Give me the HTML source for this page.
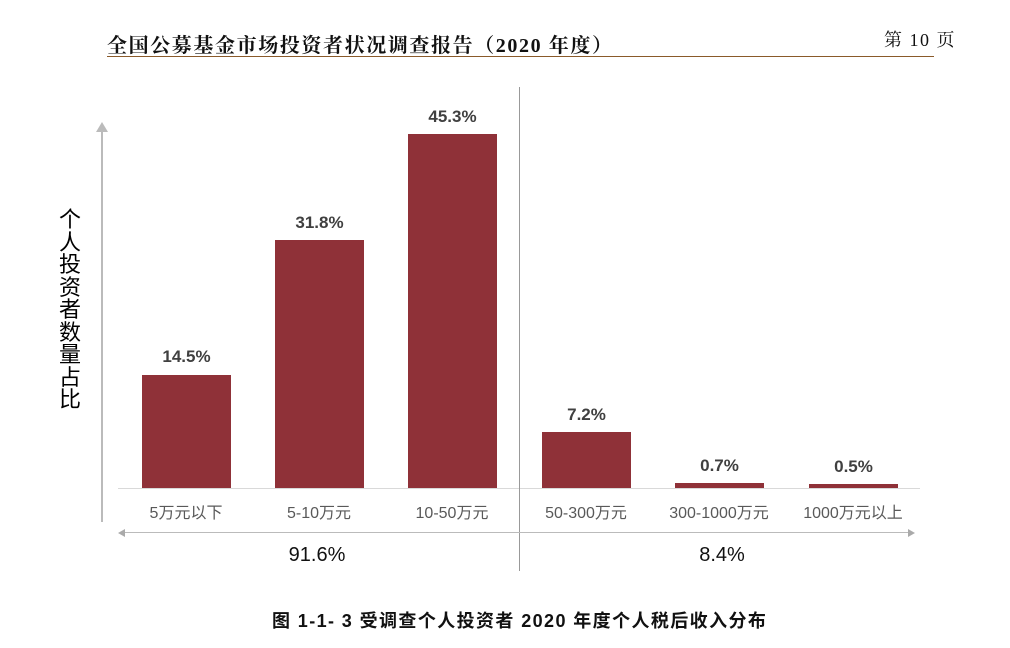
<!DOCTYPE html><html><head><meta charset="utf-8"><style>
body{margin:0;width:1010px;height:648px;background:#fff;position:relative;overflow:hidden;font-family:"Liberation Sans","Noto Sans CJK SC",sans-serif}
.a{position:absolute}
.bar{position:absolute;background:#8f3138;width:89px}
.v{position:absolute;width:89px;text-align:center;font-weight:bold;font-size:17px;color:#404040}
.l{position:absolute;width:134px;text-align:center;font-size:16px;color:#595959;top:499px}
</style></head><body>
<div class="a" style="left:107px;top:29px;font-family:'Liberation Serif','Noto Serif CJK SC',serif;font-size:20px;letter-spacing:1.6px;font-weight:bold;color:#111;white-space:nowrap">全国公募基金市场投资者状况调查报告（2020 年度）</div>
<div class="a" style="left:884px;top:26px;font-family:'Liberation Serif','Noto Serif CJK SC',serif;font-size:18px;letter-spacing:1.5px;color:#111;white-space:nowrap">第 10 页</div>
<div class="a" style="left:107px;top:56px;width:827px;height:1px;background:#8a5a2a"></div>
<div class="a" style="left:101px;top:130px;width:2px;height:392px;background:#bbb"></div>
<div class="a" style="left:96px;top:122px;width:0;height:0;border-left:6px solid transparent;border-right:6px solid transparent;border-bottom:10px solid #bbb"></div>
<div class="a" style="left:118px;top:488px;width:802px;height:1px;background:#d9d9d9"></div>
<div class="a" style="left:519px;top:87px;width:1px;height:484px;background:#999"></div>
<div class="a" style="left:124px;top:532px;width:786px;height:1px;background:#bbb"></div>
<div class="a" style="left:118px;top:529px;border-top:4px solid transparent;border-bottom:4px solid transparent;border-right:7px solid #aaa"></div>
<div class="a" style="left:908px;top:529px;border-top:4px solid transparent;border-bottom:4px solid transparent;border-left:7px solid #aaa"></div>
<div class="a" style="left:56px;top:209px;width:28px;font-size:22px;line-height:22.5px;color:#000;text-align:center">个人投资者数量占比</div>
<div class="bar" style="left:142px;top:375px;height:113px"></div>
<div class="bar" style="left:275px;top:240px;height:248px"></div>
<div class="bar" style="left:408px;top:134px;height:354px"></div>
<div class="bar" style="left:542px;top:432px;height:56px"></div>
<div class="bar" style="left:675px;top:483px;height:5px"></div>
<div class="bar" style="left:809px;top:484px;height:4px"></div>
<div class="v" style="left:142px;top:347px">14.5%</div>
<div class="v" style="left:275px;top:213px">31.8%</div>
<div class="v" style="left:408px;top:107px">45.3%</div>
<div class="v" style="left:542px;top:405px">7.2%</div>
<div class="v" style="left:675px;top:456px">0.7%</div>
<div class="v" style="left:809px;top:457px">0.5%</div>
<div class="l" style="left:119px">5万元以下</div>
<div class="l" style="left:252px">5-10万元</div>
<div class="l" style="left:385px">10-50万元</div>
<div class="l" style="left:519px">50-300万元</div>
<div class="l" style="left:652px">300-1000万元</div>
<div class="l" style="left:786px">1000万元以上</div>
<div class="a" style="left:250px;top:544px;width:134px;text-align:center;font-size:20px;color:#111">91.6%</div>
<div class="a" style="left:655px;top:544px;width:134px;text-align:center;font-size:20px;color:#111">8.4%</div>
<div class="a" style="left:272px;top:607px;font-size:18px;letter-spacing:1.4px;font-weight:bold;color:#111;white-space:nowrap">图 1-1- 3 受调查个人投资者 2020 年度个人税后收入分布</div>
</body></html>
